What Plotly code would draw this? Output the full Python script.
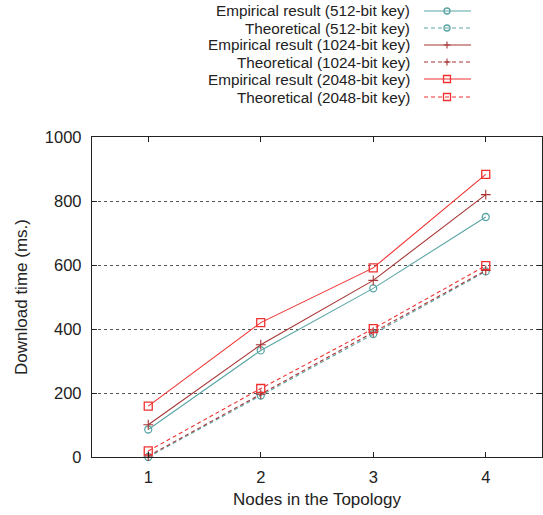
import plotly.graph_objects as go

nodes = [1, 2, 3, 4]
emp_512 = [86, 333, 527, 750]
theo_512 = [0, 192, 384, 580]
emp_1024 = [101, 351, 552, 820]
theo_1024 = [3, 196, 390, 583]
emp_2048 = [159, 420, 591, 883]
theo_2048 = [19, 214, 401, 598]

names = [
    "Empirical result (512-bit key)",
    "Theoretical (512-bit key)",
    "Empirical result (1024-bit key)",
    "Theoretical (1024-bit key)",
    "Empirical result (2048-bit key)",
    "Theoretical (2048-bit key)",
]
series = [emp_512, theo_512, emp_1024, theo_1024, emp_2048, theo_2048]

C512 = "#5aa5a5"
C1024 = "#a83434"
C2048 = "#f03030"
styles = [
    (C512, "solid", "circle-open", 7),
    (C512, "4px,3px", "circle-open", 7),
    (C1024, "solid", "cross-thin-open", 7),
    (C1024, "4px,3px", "cross-thin-open", 7),
    (C2048, "solid", "square-open", 8),
    (C2048, "4px,3px", "square-open", 8),
]

FONT = "Liberation Sans, Arial, sans-serif"

fig = go.Figure()
for name, ys, (col, dash, sym, sz) in zip(names, series, styles):
    fig.add_trace(go.Scatter(
        x=nodes, y=ys, name=name, mode="lines+markers",
        line=dict(color=col, width=1.1, dash=dash),
        marker=dict(symbol=sym, size=sz, color=col,
                    line=dict(color=col, width=1.1 if "cross" in sym else 1.3)),
        showlegend=False, cliponaxis=False,
    ))

FIG_W, FIG_H = 543, 515
# plot area in window pixels
L, R, T, B = 92, 542, 137, 457
W, H = R - L, B - T

def px_x(p):
    return (p - L) / W

def px_y(p):
    return (B - p) / H

row_y = [11, 28, 45, 62, 79, 97]
text_right = 412
line_x0, line_x1, mark_x = 424, 471, 447
shapes = []
annotations = []
for name, yy, (col, dash, sym, sz) in zip(names, row_y, styles):
    annotations.append(dict(
        x=px_x(text_right), y=px_y(yy), xref="paper", yref="paper",
        text=name, showarrow=False, xanchor="right", yanchor="middle",
        font=dict(family=FONT, size=15.3, color="#222"),
    ))
    shapes.append(dict(
        type="line", xref="paper", yref="paper",
        x0=px_x(line_x0), x1=px_x(line_x1), y0=px_y(yy), y1=px_y(yy),
        line=dict(color=col, width=1.1, dash=dash),
    ))
    if sym.startswith("circle"):
        shapes.append(dict(type="circle", xref="paper", yref="paper",
                           x0=px_x(mark_x - 3), x1=px_x(mark_x + 3),
                           y0=px_y(yy - 3), y1=px_y(yy + 3),
                           line=dict(color=col, width=1.3), fillcolor="rgba(0,0,0,0)"))
    elif sym.startswith("square"):
        shapes.append(dict(type="rect", xref="paper", yref="paper",
                           x0=px_x(mark_x - 3.5), x1=px_x(mark_x + 3.5),
                           y0=px_y(yy - 3.5), y1=px_y(yy + 3.5),
                           line=dict(color=col, width=1.3), fillcolor="rgba(0,0,0,0)"))
    else:
        shapes.append(dict(type="line", xref="paper", yref="paper",
                           x0=px_x(mark_x - 3.5), x1=px_x(mark_x + 3.5),
                           y0=px_y(yy), y1=px_y(yy), line=dict(color=col, width=1.1)))
        shapes.append(dict(type="line", xref="paper", yref="paper",
                           x0=px_x(mark_x), x1=px_x(mark_x),
                           y0=px_y(yy - 3.5), y1=px_y(yy + 3.5), line=dict(color=col, width=1.1)))

fig.update_layout(
    width=FIG_W, height=FIG_H,
    margin=dict(l=L, r=FIG_W - R, t=T, b=FIG_H - B, pad=0),
    paper_bgcolor="white", plot_bgcolor="white",
    font=dict(family=FONT, size=16, color="#222"),
    shapes=shapes, annotations=annotations,
    showlegend=False,
)
fig.update_xaxes(
    range=[0.5, 4.5], tickvals=nodes, ticktext=[str(n) for n in nodes],
    showgrid=False, zeroline=False,
    showline=True, linecolor="#222", linewidth=1.2, mirror="ticks",
    ticks="inside", ticklen=5, tickcolor="#222", tickwidth=1,
    tickfont=dict(size=16.5), ticklabelstandoff=5,
    title=dict(text="Nodes in the Topology", font=dict(size=17), standoff=8),
)
fig.update_yaxes(
    range=[0, 1000], tickvals=[0, 200, 400, 600, 800, 1000],
    showgrid=True, gridcolor="#555", griddash="dot", gridwidth=1,
    zeroline=False,
    showline=True, linecolor="#222", linewidth=1.2, mirror="ticks",
    ticks="inside", ticklen=5, tickcolor="#222", tickwidth=1,
    tickfont=dict(size=16.5), ticklabelstandoff=6,
    title=dict(text="Download time (ms.)", font=dict(size=17), standoff=12),
)

# remove the browser's default 8px body margin so the figure fills the window
fig.write_html(
    "out.html",
    config={"displayModeBar": False, "staticPlot": True},
    post_script="document.body.style.margin='0';document.body.style.overflow='hidden';",
)
